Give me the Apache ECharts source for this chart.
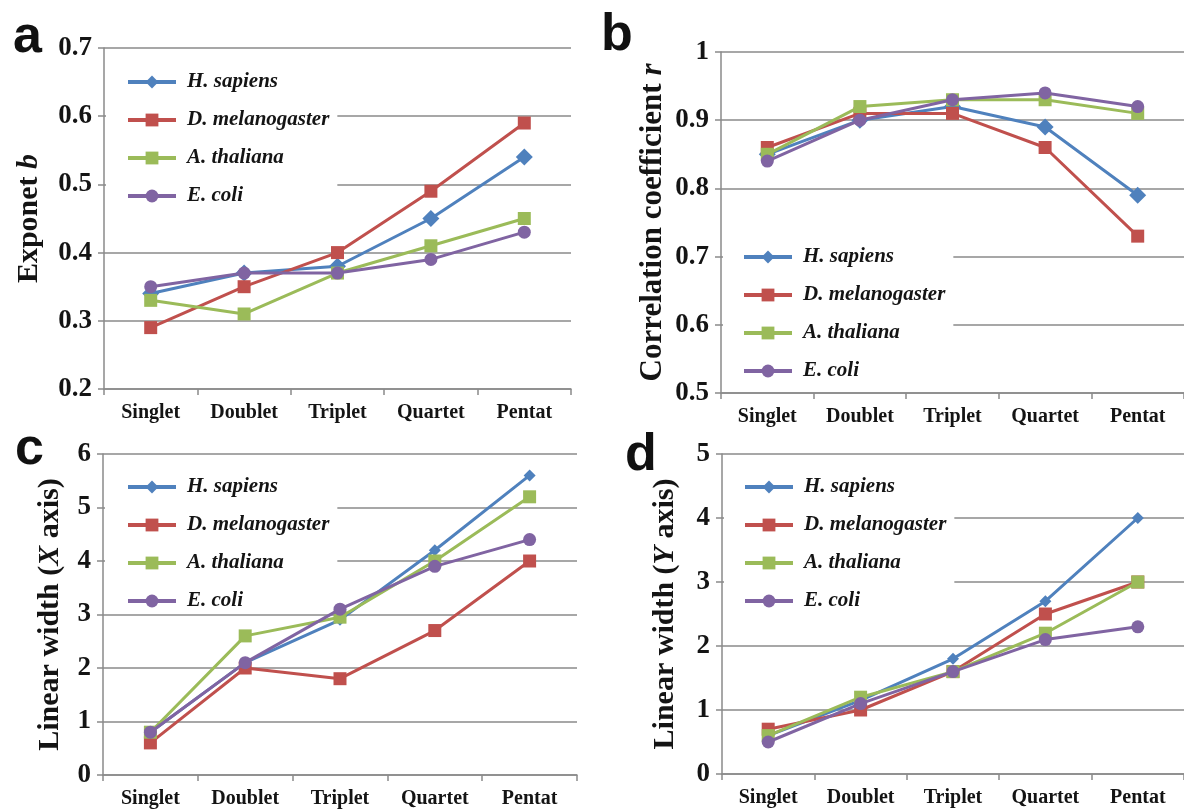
<!DOCTYPE html>
<html>
<head>
<meta charset="utf-8">
<script src="https://cdn.jsdelivr.net/npm/echarts@6/dist/echarts.min.js"></script>
<style>
html,body{margin:0;padding:0;background:#fff;}
#chart{width:1184px;height:810px;}
</style>
</head>
<body>
<div id="chart"></div>
<script>
// ---- data ----
const categories = ['Singlet', 'Doublet', 'Triplet', 'Quartet', 'Pentat'];
const species = ['H. sapiens', 'D. melanogaster', 'A. thaliana', 'E. coli'];

// panel a: Exponet b
const exponentHs = [0.34, 0.37, 0.38, 0.45, 0.54];
const exponentDm = [0.29, 0.35, 0.40, 0.49, 0.59];
const exponentAt = [0.33, 0.31, 0.37, 0.41, 0.45];
const exponentEc = [0.35, 0.37, 0.37, 0.39, 0.43];

// panel b: Correlation coefficient r
const corrHs = [0.85, 0.90, 0.92, 0.89, 0.79];
const corrDm = [0.86, 0.91, 0.91, 0.86, 0.73];
const corrAt = [0.85, 0.92, 0.93, 0.93, 0.91];
const corrEc = [0.84, 0.90, 0.93, 0.94, 0.92];

// panel c: Linear width (X axis)
const widthXHs = [0.8, 2.1, 2.9, 4.2, 5.6];
const widthXDm = [0.6, 2.0, 1.8, 2.7, 4.0];
const widthXAt = [0.8, 2.6, 2.95, 4.0, 5.2];
const widthXEc = [0.8, 2.1, 3.1, 3.9, 4.4];

// panel d: Linear width (Y axis)
const widthYHs = [0.6, 1.15, 1.8, 2.7, 4.0];
const widthYDm = [0.7, 1.0, 1.6, 2.5, 3.0];
const widthYAt = [0.6, 1.2, 1.6, 2.2, 3.0];
const widthYEc = [0.5, 1.1, 1.6, 2.1, 2.3];

const panelLetters = ['a', 'b', 'c', 'd'];

// ---- styling ----
const colors = ['#4F81BD', '#C0504D', '#9BBB59', '#8064A2'];
const symbols = ['diamond', 'rect', 'rect', 'circle'];
const SERIF = '"Liberation Serif", "Times New Roman", serif';
const AXIS_GREY = '#8a8a8a';
const TEXT = '#141414';

const panels = [
  { values: [exponentHs, exponentDm, exponentAt, exponentEc], min: 0.2, max: 0.7, interval: 0.1,
    fmt: v => v.toFixed(1), name: 'Exponet {i|b}', nameGap: 60, nameSize: 30,
    grid: { left: 104, top: 48, width: 467, height: 341 },
    legend: { left: 106, top: 61, padding: [10, 8, 14, 20] }, diamond: 17, letter: [13, 50] },
  { values: [corrHs, corrDm, corrAt, corrEc], min: 0.5, max: 1, interval: 0.1,
    fmt: v => (Math.abs(v - 1) < 1e-9 ? '1' : v.toFixed(1)), name: 'Correlation coefficient {i|r}', nameGap: 53, nameSize: 31,
    grid: { left: 721, top: 52, width: 470, height: 341 },
    legend: { left: 723, top: 236, padding: [10, 8, 8, 19] }, diamond: 17, letter: [601, 48] },
  { values: [widthXHs, widthXDm, widthXAt, widthXEc], min: 0, max: 6, interval: 1,
    fmt: v => String(v), name: 'Linear width ({i|X} axis)', nameGap: 38, nameSize: 30,
    grid: { left: 103, top: 454, width: 474, height: 321 },
    legend: { left: 105, top: 466, padding: [10, 8, 0, 21] }, diamond: 12, letter: [15, 462] },
  { values: [widthYHs, widthYDm, widthYAt, widthYEc], min: 0, max: 5, interval: 1,
    fmt: v => String(v), name: 'Linear width ({i|Y} axis)', nameGap: 42, nameSize: 30,
    grid: { left: 722, top: 454, width: 473, height: 320 },
    legend: { left: 724, top: 466, padding: [10, 8, 12, 19] }, diamond: 12, letter: [625, 468] }
];

const option = {
  backgroundColor: '#ffffff',
  animation: false,
  grid: [], xAxis: [], yAxis: [], series: [], legend: [], graphic: []
};

panels.forEach((p, i) => {
  option.grid.push(Object.assign({ containLabel: false }, p.grid));
  option.xAxis.push({
    type: 'category', gridIndex: i, data: categories, boundaryGap: true,
    axisLine: { show: true, lineStyle: { color: AXIS_GREY, width: 1.5 } },
    axisTick: { show: true, length: 6, lineStyle: { color: AXIS_GREY, width: 1.5 } },
    axisLabel: { interval: 0, margin: 14, color: TEXT, fontFamily: SERIF, fontWeight: 'bold', fontSize: 20 },
    splitLine: { show: false }
  });
  option.yAxis.push({
    type: 'value', gridIndex: i, min: p.min, max: p.max, interval: p.interval,
    axisLine: { show: true, lineStyle: { color: AXIS_GREY, width: 1.5 } },
    axisTick: { show: true, length: 6, lineStyle: { color: AXIS_GREY, width: 1.5 } },
    axisLabel: { margin: 12, color: TEXT, fontFamily: SERIF, fontWeight: 'bold', fontSize: 27, formatter: p.fmt },
    splitLine: { show: true, lineStyle: { color: AXIS_GREY, width: 1.5 } },
    name: p.name, nameLocation: 'middle', nameGap: p.nameGap, nameRotate: 90,
    nameTextStyle: {
      color: TEXT, fontFamily: SERIF, fontWeight: 'bold', fontSize: p.nameSize,
      rich: { i: { fontFamily: SERIF, fontWeight: 'bold', fontStyle: 'italic', fontSize: p.nameSize, color: TEXT } }
    }
  });
  species.forEach((s, k) => {
    option.series.push({
      type: 'line', name: s, xAxisIndex: i, yAxisIndex: i, data: p.values[k],
      symbol: symbols[k], symbolSize: k === 0 ? p.diamond : 13, showAllSymbol: true,
      lineStyle: { color: colors[k], width: 3 },
      itemStyle: { color: colors[k] },
      z: 2 + k
    });
  });
  option.legend.push({
    data: species, orient: 'vertical', left: p.legend.left, top: p.legend.top,
    backgroundColor: '#ffffff', padding: p.legend.padding, selectedMode: false,
    itemWidth: 48, itemHeight: 16, itemGap: 16,
    lineStyle: { width: 4 },
    textStyle: { fontFamily: SERIF, fontStyle: 'italic', fontWeight: 'bold', fontSize: 21, color: TEXT, lineHeight: 22, padding: [0, 0, 0, 6] }
  });
  option.graphic.push({
    type: 'text', left: p.letter[0], top: p.letter[1] - 38,
    style: { text: panelLetters[i], font: 'bold 52px "Liberation Sans", Arial, sans-serif', fill: '#111' }
  });
});

const chart = echarts.init(document.getElementById('chart'), null, { renderer: 'canvas' });
chart.setOption(option);
</script>
</body>
</html>
